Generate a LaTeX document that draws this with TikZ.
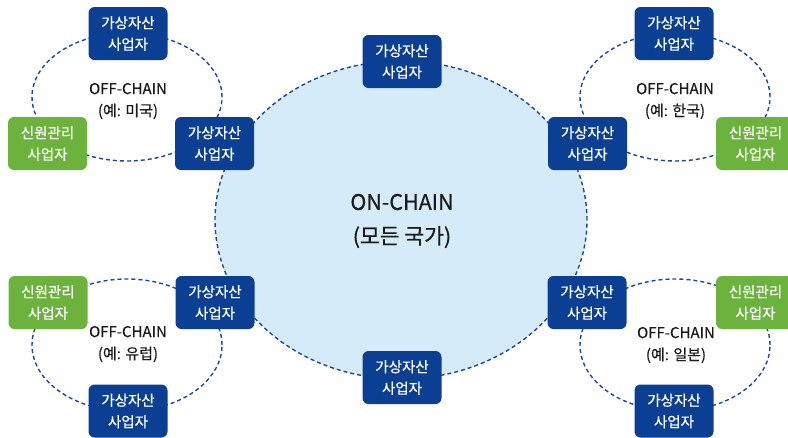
\documentclass[tikz,border=0pt]{standalone}
\usepackage{fontspec}
\setmainfont{Noto Sans CJK KR}
\newfontfamily\medfont{Noto Sans CJK KR}[FakeBold=0.5]
\usetikzlibrary{shapes.geometric}
\definecolor{navy}{HTML}{0B3F93}
\definecolor{leaf}{HTML}{6CB33E}
\definecolor{sky}{HTML}{D5EBF9}
\definecolor{dashc}{HTML}{1B4898}
\definecolor{ink}{HTML}{1A1A1A}
\tikzset{
  vasp/.style={rectangle, rounded corners=6pt, fill=navy, text=white, minimum width=79pt, minimum height=53pt, align=center, inner sep=0pt, font=\medfont\fontsize{14.5}{21.5}\selectfont},
  credit/.style={vasp, fill=leaf},
  loopline/.style={draw=dashc, line width=1.4pt, dash pattern=on 4pt off 3pt, ellipse, inner sep=0pt},
  offlabel/.style={text=ink, align=center, font=\medfont\fontsize{15}{22}\selectfont, inner sep=0pt},
  onlabel/.style={text=ink, align=center, font=\medfont\fontsize{21.5}{34}\selectfont, inner sep=0pt}
}
\begin{document}
\begin{tikzpicture}[x=1pt,y=-1pt]
\useasboundingbox (0,0) rectangle (788,437);
% big on-chain ellipse
\node[loopline, fill=sky, minimum width=372pt, minimum height=318pt] (onring) at (401,220) {};
% off-chain loops
\node[loopline, minimum width=190pt, minimum height=128pt] (ringTL) at (127,97) {};
\node[loopline, minimum width=190pt, minimum height=128pt] (ringTR) at (675,97) {};
\node[loopline, minimum width=190pt, minimum height=132pt] (ringBL) at (127,345) {};
\node[loopline, minimum width=190pt, minimum height=132pt] (ringBR) at (675,345) {};
% labels
\node[onlabel] (ontext) at (402,221) {ON-CHAIN\\(모든 국가)};
\node[offlabel] (offTL) at (128,101) {OFF-CHAIN\\(예: 미국)};
\node[offlabel] (offTR) at (675,101) {OFF-CHAIN\\(예: 한국)};
\node[offlabel] (offBL) at (128,344) {OFF-CHAIN\\(예: 유럽)};
\node[offlabel] (offBR) at (676,345) {OFF-CHAIN\\(예: 일본)};
% VASP nodes
\node[vasp] (vTL) at (128,33.5) {가상자산\\사업자};
\node[vasp] (vTR) at (674,33.5) {가상자산\\사업자};
\node[vasp] (vCT) at (402,61.5) {가상자산\\사업자};
\node[vasp] (vL1) at (214.5,143.5) {가상자산\\사업자};
\node[vasp] (vR1) at (587.5,143.5) {가상자산\\사업자};
\node[vasp] (vL2) at (215,302.5) {가상자산\\사업자};
\node[vasp] (vR2) at (587,302.5) {가상자산\\사업자};
\node[vasp] (vCB) at (402,377.5) {가상자산\\사업자};
\node[vasp] (vBL) at (128,411) {가상자산\\사업자};
\node[vasp] (vBR) at (674,411) {가상자산\\사업자};
% credit nodes
\node[credit] (cL1) at (47.5,143.5) {신원관리\\사업자};
\node[credit] (cR1) at (755.5,143.5) {신원관리\\사업자};
\node[credit] (cL2) at (48,302.5) {신원관리\\사업자};
\node[credit] (cR2) at (755.5,302.5) {신원관리\\사업자};
\end{tikzpicture}
\end{document}
